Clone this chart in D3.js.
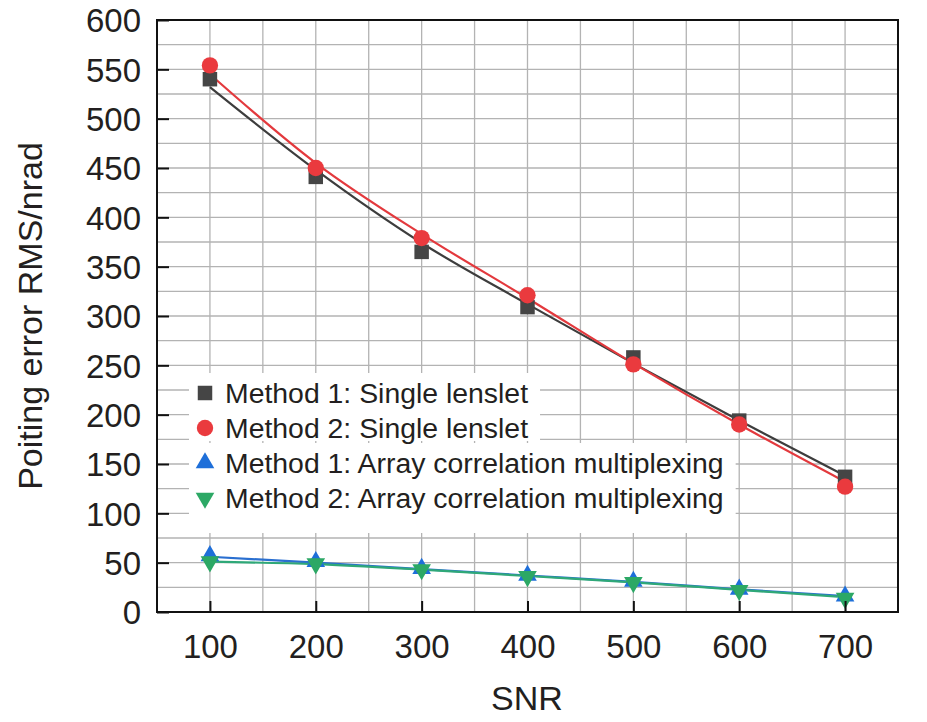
<!DOCTYPE html>
<html>
<head>
<meta charset="utf-8">
<script src="https://cdn.jsdelivr.net/npm/d3@7"></script>
<style>
  html, body { margin: 0; padding: 0; background: #fff; }
  svg { display: block; font-family: "Liberation Sans", Arial, sans-serif; }
</style>
</head>
<body>
<svg id="chart" width="927" height="722"></svg>
<script>
// ---- data ----
const snr = [100, 200, 300, 400, 500, 600, 700];
const m1Single = [540, 441, 365, 309, 258, 194, 137];
const m2Single = [554, 450, 379, 321, 251, 190, 127];
const m1Array  = [57, 51, 44, 37, 31, 23, 16];
const m2Array  = [51, 49, 43, 36, 30, 22, 14];
// fitted curves drawn through the markers
const m1SingleFit = [532, 448, 374, 312, 252, 194, 138];
const m2SingleFit = [545, 455, 383, 318, 252, 190, 132];
const m1ArrayFit  = [56, 50, 43.5, 37, 30.5, 23, 16];
const m2ArrayFit  = [51, 48.5, 43, 36.5, 30, 22.5, 15];
const xTicks = [100, 200, 300, 400, 500, 600, 700];
const yTicks = [0, 50, 100, 150, 200, 250, 300, 350, 400, 450, 500, 550, 600];
const legendLabels = [
  "Method 1: Single lenslet",
  "Method 2: Single lenslet",
  "Method 1: Array correlation multiplexing",
  "Method 2: Array correlation multiplexing"
];

const series = [
  { pts: m1Single, fit: m1SingleFit, color: "#3d3d3d", marker: "#454545", sym: d3.symbolSquare, size: 210, rot: 0 },
  { pts: m2Single, fit: m2SingleFit, color: "#e3393d", marker: "#ea3a3e", sym: d3.symbolCircle, size: 210, rot: 0 },
  { pts: m1Array,  fit: m1ArrayFit,  color: "#2a6fd0", marker: "#1e6fd9", sym: d3.symbolTriangle, size: 150, rot: 0 },
  { pts: m2Array,  fit: m2ArrayFit,  color: "#2fa878", marker: "#2ca865", sym: d3.symbolTriangle, size: 150, rot: 180 }
];

const svg = d3.select("#chart");
const L = 157, R = 898, T = 20, B = 612;
const x = d3.scaleLinear().domain([50, 750]).range([L, R]);
const y = d3.scaleLinear().domain([0, 600]).range([B, T]);

// grid
const g = svg.append("g");
g.selectAll("line.vg").data(d3.range(100, 750, 50)).join("line")
  .attr("x1", d => x(d)).attr("x2", d => x(d)).attr("y1", T).attr("y2", B)
  .attr("stroke", "#b3b3b3").attr("stroke-width", 1.3);
g.selectAll("line.hg").data(d3.range(25, 600, 25)).join("line")
  .attr("x1", L).attr("x2", R).attr("y1", d => y(d)).attr("y2", d => y(d))
  .attr("stroke", "#b3b3b3").attr("stroke-width", 1.3);

// legend background (knocks out grid)
const legX = 189, legMarkX = 205, legTextX = 225, legBase0 = 403, legStep = 35;
const legBg = svg.append("g");
const legG = svg.append("g");

// lines
series.forEach(s => {
  const line = d3.line().x((d, i) => x(snr[i])).y(d => y(d)).curve(d3.curveMonotoneX);
  svg.append("path").datum(s.fit).attr("d", line)
    .attr("fill", "none").attr("stroke", s.color).attr("stroke-width", 2.2);
});
// markers
series.forEach(s => {
  svg.append("g").selectAll("path").data(s.pts).join("path")
    .attr("d", d3.symbol().type(s.sym).size(s.size))
    .attr("transform", (d, i) => `translate(${x(snr[i])},${y(d)}) rotate(${s.rot})`)
    .attr("fill", s.marker);
});

// frame
svg.append("rect").attr("x", L).attr("y", T).attr("width", R - L).attr("height", B - T)
  .attr("fill", "none").attr("stroke", "#111").attr("stroke-width", 2);

// axes (inward ticks)
const yAxis = d3.axisLeft(y).tickValues(yTicks).tickSizeInner(-12).tickSizeOuter(0).tickPadding(16);
const yg = svg.append("g").attr("transform", `translate(${L},0)`).call(yAxis);
const xAxis = d3.axisBottom(x).tickValues(xTicks).tickSizeInner(-11).tickSizeOuter(0).tickPadding(22);
const xg = svg.append("g").attr("transform", `translate(0,${B})`).call(xAxis);
[yg, xg].forEach(a => {
  a.select(".domain").remove();
  a.selectAll(".tick line").attr("stroke", "#111").attr("stroke-width", 2);
  a.selectAll(".tick text").attr("fill", "#231f20").style("font-size", "33px")
    .style("font-family", "'Liberation Sans', Arial, sans-serif");
});
yg.selectAll(".tick text").attr("dy", "0.36em");
xg.selectAll(".tick text").attr("dy", "0.72em");

// axis titles
svg.append("text").attr("x", 527).attr("y", 710).attr("text-anchor", "middle")
  .attr("fill", "#231f20").style("font-size", "34px").text("SNR");
svg.append("text").attr("transform", "translate(42,316) rotate(-90)").attr("text-anchor", "middle")
  .attr("fill", "#231f20").style("font-size", "34px").text("Poiting error RMS/nrad");

// legend
const texts = legendLabels.map((lab, i) => legG.append("text")
  .attr("x", legTextX).attr("y", legBase0 + i * legStep)
  .attr("fill", "#231f20").style("font-size", "28.4px").text(lab));
const widths = texts.map(t => t.node().getComputedTextLength());
const groups = [[0, 1], [2, 3]];
groups.forEach(gr => {
  const w = d3.max(gr, i => widths[i]);
  const top = legBase0 + gr[0] * legStep - 30;
  const bot = legBase0 + gr[1] * legStep + (gr[1] === 3 ? 25 : 3);
  legBg.append("rect").attr("x", legX).attr("y", top)
    .attr("width", legTextX + w + 12 - legX).attr("height", bot - top).attr("fill", "#fff");
});
series.forEach((s, i) => {
  legG.append("path")
    .attr("d", d3.symbol().type(s.sym).size(s.size))
    .attr("transform", `translate(${legMarkX},${legBase0 + i * legStep - 10}) rotate(${s.rot})`)
    .attr("fill", s.marker);
});
</script>
</body>
</html>
